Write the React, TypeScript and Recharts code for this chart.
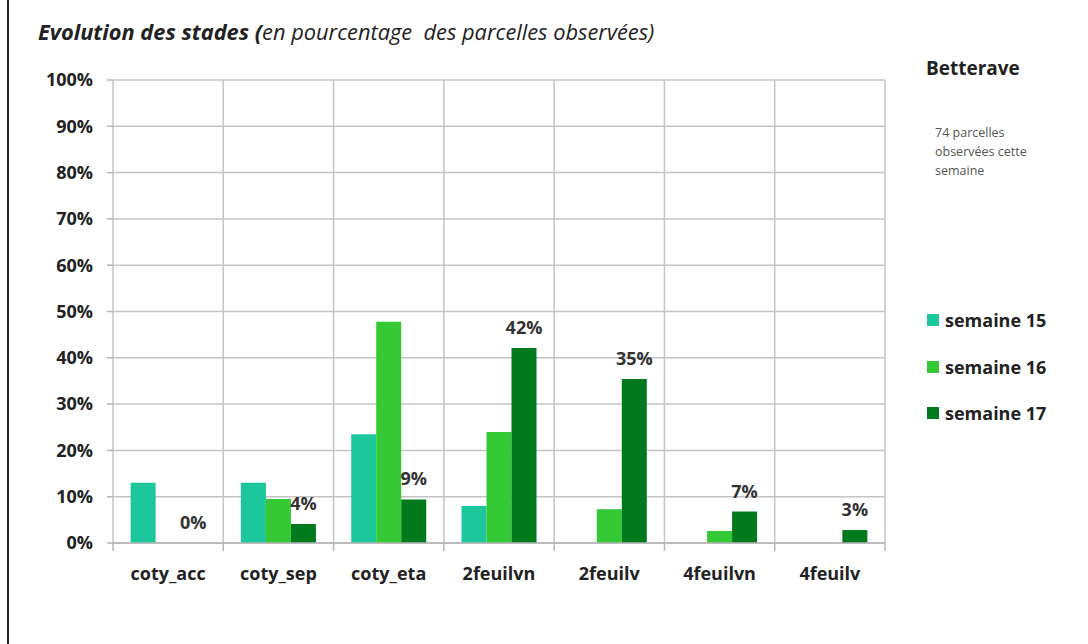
import React from 'react';
import { BarChart, Bar, XAxis, YAxis, CartesianGrid, Legend, LabelList } from 'recharts';

const categories = ['coty_acc', 'coty_sep', 'coty_eta', '2feuilvn', '2feuilv', '4feuilvn', '4feuilv'];
const semaine15 = [13, 13, 23.5, 8, 0, 0, 0];
const semaine16 = [0, 9.5, 47.8, 24, 7.3, 2.6, 0];
const semaine17 = [0, 4.1, 9.4, 42.1, 35.4, 6.8, 2.8];
const yTicks = [0, 10, 20, 30, 40, 50, 60, 70, 80, 90, 100];
const seriesNames = ['semaine 15', 'semaine 16', 'semaine 17'];
const seriesColors = ['#1cc89b', '#35c935', '#007a1c'];

const data = categories.map((c, i) => ({
  name: c,
  s15: semaine15[i],
  s16: semaine16[i],
  s17: semaine17[i],
}));

const FONT = '"Open Sans", sans-serif';
const W = 1088;
const H = 644;
const N = categories.length;
const LEGEND_W = 160;

const XTick = (props: any) => {
  const { x, y, payload } = props;
  const half = payload && payload.offset ? payload.offset : 772 / N / 2;
  return (
    <g>
      <line x1={x - half} x2={x - half} y1={y} y2={y + 8} stroke="#b5b5b5" strokeWidth={1.5} />
      {payload.index === N - 1 && (
        <line x1={x + half} x2={x + half} y1={y} y2={y + 8} stroke="#b5b5b5" strokeWidth={1.5} />
      )}
      <text x={x} y={y + 37} textAnchor="middle" fontFamily={FONT} fontWeight={700} fontSize={18} fill="#222">
        {payload.value}
      </text>
    </g>
  );
};

const LegendContent = () => (
  <div style={{ fontFamily: FONT }}>
    {seriesNames.map((n, i) => (
      <div key={n} style={{ display: 'flex', alignItems: 'center', height: 46.5 }}>
        <div style={{ width: 12, height: 12, background: seriesColors[i], marginRight: 6 }} />
        <span style={{ fontWeight: 700, fontSize: 18, color: '#222' }}>{n}</span>
      </div>
    ))}
  </div>
);

export default function App() {
  return (
    <div style={{ position: 'absolute', left: 0, top: 0, width: W, height: H, background: '#fff', overflow: 'hidden' }}>
      <div style={{ position: 'absolute', left: 7, top: 0, width: 2, height: H, background: '#222' }} />
      <div
        style={{
          position: 'absolute',
          left: 38,
          top: 17,
          fontFamily: FONT,
          fontStyle: 'italic',
          fontSize: 21.8,
          color: '#222',
          whiteSpace: 'pre',
          lineHeight: '30px',
        }}
      >
        <span style={{ fontWeight: 700 }}>Evolution des stades (</span>
        <span>en pourcentage  des parcelles observées)</span>
      </div>
      <div
        style={{
          position: 'absolute',
          left: 926,
          top: 54,
          fontFamily: FONT,
          fontWeight: 700,
          fontSize: 19,
          lineHeight: '28px',
          color: '#222',
        }}
      >
        Betterave
      </div>
      <div
        style={{
          position: 'absolute',
          left: 935,
          top: 123,
          fontFamily: FONT,
          fontSize: 12.5,
          lineHeight: '19px',
          color: '#555',
          width: 120,
        }}
      >
        74 parcelles
        <br />
        observées cette
        <br />
        semaine
      </div>
      <BarChart
        width={W}
        height={H}
        data={data}
        margin={{ top: 80, right: 203 - LEGEND_W, left: 53, bottom: 71 }}
        barCategoryGap="16%"
        barGap={0}
        style={{ position: 'absolute', left: 0, top: 0 }}
      >
        <CartesianGrid
          stroke="#c4c4c4"
          strokeWidth={1.5}
          verticalCoordinatesGenerator={({ offset }: any) =>
            Array.from({ length: N + 1 }, (_, i) => offset.left + (i * offset.width) / N)
          }
        />
        <XAxis
          dataKey="name"
          axisLine={{ stroke: '#b5b5b5', strokeWidth: 1.5 }}
          tickLine={false}
          tickSize={0}
          tickMargin={0}
          height={30}
          interval={0}
          tick={<XTick />}
        />
        <YAxis
          width={60}
          domain={[0, 100]}
          ticks={yTicks}
          interval={0}
          axisLine={false}
          tickLine={{ stroke: '#b5b5b5', strokeWidth: 1.5 }}
          tickSize={6}
          tickMargin={14}
          tickFormatter={(v: number) => `${v}%`}
          tick={{ fontFamily: FONT, fontWeight: 700, fontSize: 18, fill: '#222' }}
        />
        <Legend
          layout="vertical"
          align="right"
          verticalAlign="top"
          width={LEGEND_W}
          content={<LegendContent />}
          wrapperStyle={{ position: 'absolute', left: 927, top: 297, width: LEGEND_W }}
        />
        <Bar dataKey="s15" name={seriesNames[0]} fill={seriesColors[0]} isAnimationActive={false} />
        <Bar dataKey="s16" name={seriesNames[1]} fill={seriesColors[1]} isAnimationActive={false} />
        <Bar dataKey="s17" name={seriesNames[2]} fill={seriesColors[2]} minPointSize={0.01} isAnimationActive={false}>
          <LabelList
            dataKey="s17"
            position="top"
            offset={14}
            formatter={(v: number) => `${Math.round(v)}%`}
            style={{ fontFamily: FONT, fontWeight: 700, fontSize: 18, fill: '#333' }}
          />
        </Bar>
      </BarChart>
    </div>
  );
}
